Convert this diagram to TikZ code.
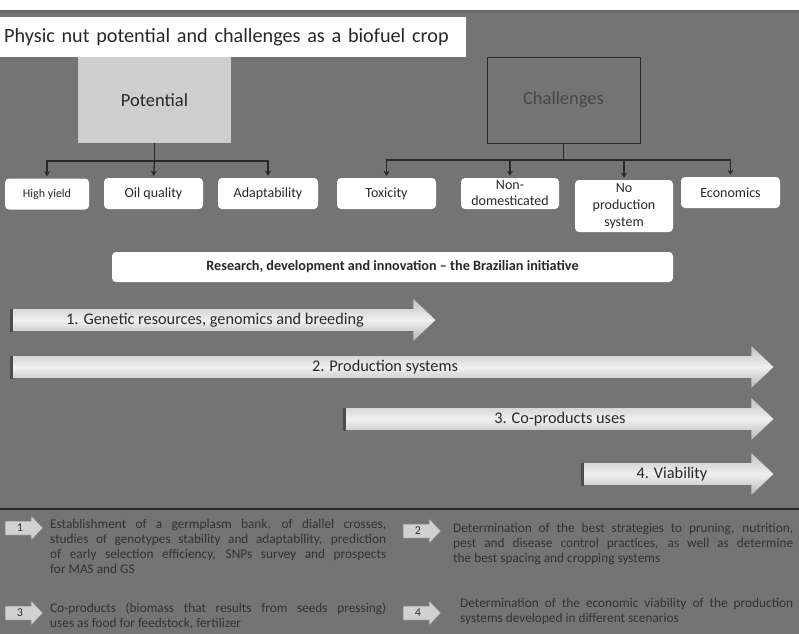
\documentclass[tikz,border=0pt]{standalone}
\usepackage{fontspec}
\setmainfont{Carlito}
\usepackage{tikz}
\usetikzlibrary{positioning, arrows.meta}
\definecolor{bgscan}{RGB}{116,116,116}
\definecolor{boxpale}{RGB}{206,206,206}
\definecolor{inkdark}{RGB}{40,40,40}
\definecolor{textdim}{RGB}{50,50,50}
\newcommand{\fs}[2]{\fontsize{#1}{#2}\selectfont}

\tikzset{
  leafbox/.style={fill=white, rounded corners=4pt, minimum height=31pt, inner sep=2pt,
    align=center, text=inkdark, font=\fs{14}{16}},
  link/.style={draw=inkdark, line width=1.3pt},
  linktip/.style={link, -{Stealth[length=5pt,width=6pt]}, shorten >=2pt},
  bigarrow/.style={draw=black!55, line width=0.6pt, top color=black!25, bottom color=black!30, middle color=black!6},
  smallarrow/.style={draw=black!50, line width=0.5pt, fill=black!18},
  arrowtext/.style={text=inkdark, font=\fs{16.3}{18}},
  notetext/.style={anchor=north west, text=textdim, align=justify, font=\fs{13.3}{15}, inner sep=0pt}
}

\begin{document}
\begin{tikzpicture}[x=1pt,y=-1pt]
        \useasboundingbox (0,0) rectangle (799,634);
        % Fondo
        \fill[white] (0,0) rectangle (799,10);
        \fill[bgscan] (0,10) rectangle (799,634);
        \fill[black!60] (0,10) rectangle (799,13);
        % Titulo
        \node[anchor=west, fill=white, minimum height=40pt, text width=458pt, inner xsep=4pt, inner ysep=0pt,
              align=left, text=inkdark, font=\fs{20.2}{22}] (title) at (0,37) {Physic nut potential and challenges as a biofuel crop};

        %######## Potential / Challenges #############
        \node[fill=boxpale, minimum width=153pt, minimum height=86pt, text=inkdark, font=\fs{18.5}{20}] (pot) at (154.5,100) {Potential};
        \node[draw=inkdark, line width=0.8pt, minimum width=153pt, minimum height=86pt, text=black!72, font=\fs{18.5}{20}] (chl) at (563.5,100) {Challenges};

        % Hojas
        \node[leafbox, minimum width=84pt, font=\fs{12}{14}] (hy) at (47,194) {High yield};
        \node[leafbox, minimum width=99pt] (oq) at (153.5,193.5) {Oil quality};
        \node[leafbox, minimum width=100pt] (ad) at (268,193.5) {Adaptability};
        \node[leafbox, minimum width=99pt] (tx) at (386.5,193.5) {Toxicity};
        \node[leafbox, minimum width=98pt] (nd) at (510,193.5) {Non-\\domesticated};
        \node[leafbox, minimum width=98pt, minimum height=52pt, font=\fs{14}{17}] (np) at (624,206) {No\\production\\system};
        \node[leafbox, minimum width=99pt] (ec) at (730.5,192.5) {Economics};

        % Conectores
        \coordinate (potj) at (154.5,161);
        \coordinate (chlj) at (563.5,160);
        \draw[link] (pot.south) -- (potj);
        \draw[linktip] (potj) -| (hy.north);
        \draw[linktip] (potj) -- (oq.north);
        \draw[linktip] (potj) -| (ad.north);
        \draw[link] (chl.south) -- (chlj);
        \draw[linktip] (chlj) -| (tx.north);
        \draw[linktip] (chlj) -| (nd.north);
        \draw[linktip] (chlj) -| (np.north);
        \draw[linktip] (chlj) -| (ec.north);

        %######## Research, development and innovation #############
        \node[fill=white, rounded corners=4pt, minimum width=561pt, minimum height=30pt,
              text=inkdark, font=\bfseries\fs{14.2}{16}] (rdi) at (392.5,267) {Research, development and innovation – the Brazilian initiative};

        % Flechas grandes
        \foreach \xa/\xb/\yc in {10/436/320, 10/774/367, 343/774/419, 581/774/474}{
          \draw[bigarrow] (\xa,\yc-11.5) -- (\xb-23,\yc-11.5) -- (\xb-23,\yc-22) -- (\xb,\yc)
                -- (\xb-23,\yc+22) -- (\xb-23,\yc+11.5) -- (\xa,\yc+11.5) -- cycle;
          \draw[black!70, line width=2.5pt] (\xa+1.5,\yc-11.5) -- (\xa+1.5,\yc+11.5);
        }
        \node[arrowtext] (gen) at (215,320) {1. Genetic resources, genomics and breeding};
        \node[arrowtext] (prod) at (385,367) {2. Production systems};
        \node[arrowtext] (cop) at (560,419) {3. Co-products uses};
        \node[arrowtext] (via) at (672,474) {4. Viability};

        %######## Notas #############
        \draw[inkdark, line width=1.2pt] (0,509) -- (799,509);
        \foreach \xa/\yc/\n in {5/528/1, 403/531/2, 5/613/3, 403/613/4}{
          \draw[smallarrow] (\xa,\yc-7) -- (\xa+26,\yc-7) -- (\xa+26,\yc-12.5) -- (\xa+38,\yc)
                -- (\xa+26,\yc+12.5) -- (\xa+26,\yc+7) -- (\xa,\yc+7) -- cycle;
          \node[text=textdim, font=\fs{12}{14}] (num\n) at (\xa+15,\yc) {\n};
        }
        \node[notetext, text width=336pt] (note1) at (50,519) {Establishment of a germplasm bank, of diallel crosses,\linebreak
          studies of genotypes stability and adaptability, prediction\linebreak
          of early selection efficiency, SNPs survey and prospects\linebreak
          for MAS and GS};
        \node[notetext, text width=340pt] (note2) at (453,523) {Determination of the best strategies to pruning, nutrition,\linebreak
          pest and disease control practices, as well as determine\linebreak
          the best spacing and cropping systems};
        \node[notetext, text width=336pt] (note3) at (50,603) {Co-products (biomass that results from seeds pressing)\linebreak
          uses as food for feedstock, fertilizer};
        \node[notetext, text width=333pt] (note4) at (460,598) {Determination of the economic viability of the production\linebreak
          systems developed in different scenarios};
    \end{tikzpicture}
\end{document}
